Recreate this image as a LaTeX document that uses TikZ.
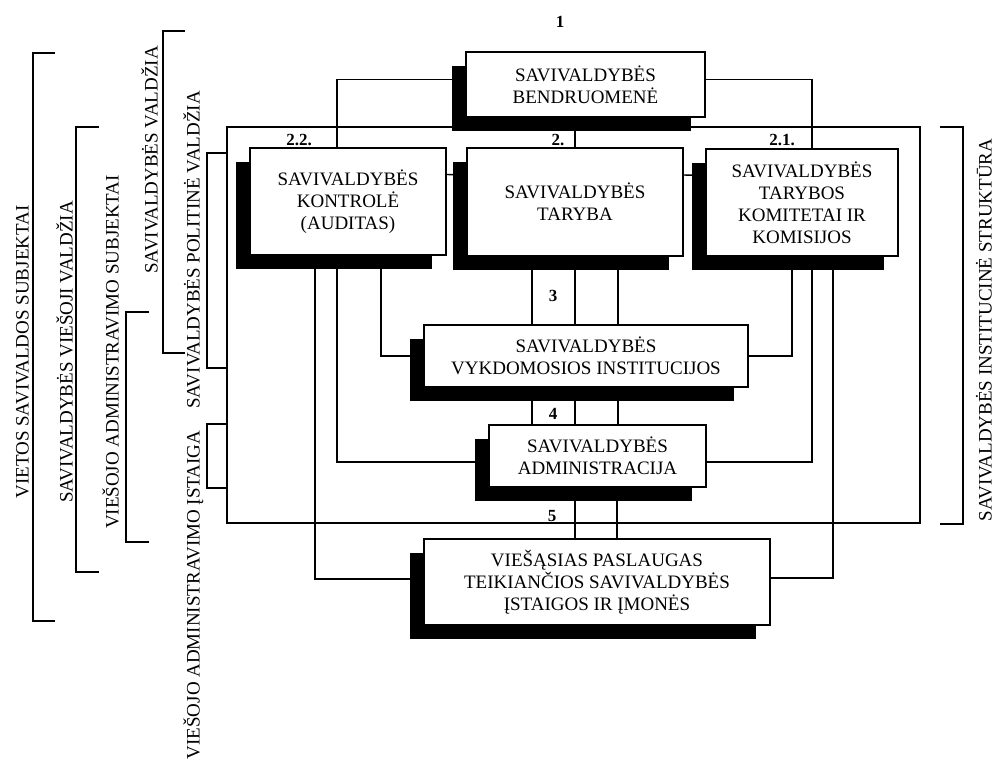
\documentclass[tikz,border=0pt]{standalone}
\usepackage{fontspec}
\setmainfont{Liberation Serif}
\usetikzlibrary{calc,shadows,backgrounds}
\begin{document}
\begin{tikzpicture}[x=1pt,y=-1pt,
  box/.style={draw, fill=white, line width=1.4pt, align=center, inner sep=0pt,
    font=\fontsize{19}{22}\selectfont,
    general shadow={fill=black, shadow xshift=-14pt, shadow yshift=-14pt}},
  conn/.style={line width=1.4pt},
  brack/.style={line width=1.8pt},
  num/.style={font=\fontsize{17}{19}\selectfont\bfseries, inner sep=0pt},
  vlab/.style={rotate=90, font=\fontsize{19}{22}\selectfont, inner sep=0pt,
    text height=13pt, text depth=0pt}]
\useasboundingbox (0,0) rectangle (997,766);

% outer frame
\node[draw, line width=1.4pt, minimum width=693pt, minimum height=396pt, inner sep=0pt] (frame) at (573.5,325) {};

% boxes
\node[box, minimum width=239pt, minimum height=65pt] (bend) at (585.5,84.5) {SAVIVALDYBĖS\\BENDRUOMENĖ};
\node[box, minimum width=196pt, minimum height=107pt] (kont) at (348,201.5) {SAVIVALDYBĖS\\KONTROLĖ\\(AUDITAS)};
\node[box, minimum width=216pt, minimum height=108pt] (tar) at (575,202) {SAVIVALDYBĖS\\TARYBA};
\node[box, minimum width=192pt, minimum height=107pt] (kom) at (802,202.5) {SAVIVALDYBĖS\\TARYBOS\\KOMITETAI IR\\KOMISIJOS};
\node[box, minimum width=324pt, minimum height=62pt] (vyk) at (586,356) {SAVIVALDYBĖS\\VYKDOMOSIOS INSTITUCIJOS};
\node[box, minimum width=217pt, minimum height=62pt] (adm) at (597.5,456) {SAVIVALDYBĖS\\ADMINISTRACIJA};
\node[box, minimum width=346pt, minimum height=86pt] (vie) at (597,582) {VIEŠĄSIAS PASLAUGAS\\TEIKIANČIOS SAVIVALDYBĖS\\ĮSTAIGOS IR ĮMONĖS};

% connectors
\begin{pgfonlayer}{background}
\draw[conn] ($(bend.west)+(0,-5)$) -| ($(kont.north)+(-11,0)$);
\draw[conn] ($(bend.east)+(0,-5)$) -| ($(kom.north)+(10,0)$);
\draw[conn] (tar.north) -- (tar.north |- bend.south);
\draw[conn] ($(kont.east)+(0,-27)$) -- ($(tar.west)+(0,-27)$);
\draw[conn] ($(tar.east)+(0,-27)$) -- ($(kom.west)+(0,-27)$);
\foreach \dx in {-43,0,43}{
  \draw[conn] ($(tar.south)+(\dx,0)$) -- ($(tar.south |- vyk.north)+(\dx,0)$);
  \draw[conn] ($(tar.south |- vyk.south)+(\dx,0)$) -- ($(tar.south |- adm.north)+(\dx,0)$);
}
\foreach \dx in {0,42}{
  \draw[conn] ($(tar.south |- adm.south)+(\dx,0)$) -- ($(tar.south |- vie.north)+(\dx,0)$);
}
\draw[conn] ($(kont.south)+(33,0)$) |- (vyk.west);
\draw[conn] ($(kont.south)+(-11,0)$) |- ($(adm.west)+(0,6)$);
\draw[conn] ($(kont.south)+(-33,0)$) |- ($(vie.west)+(0,-3)$);
\draw[conn] ($(kom.south)+(-10,0)$) |- (vyk.east);
\draw[conn] ($(kom.south)+(10,0)$) |- ($(adm.east)+(0,6)$);
\draw[conn] ($(kom.south)+(31,0)$) |- ($(vie.east)+(0,-4)$);
\end{pgfonlayer}

% number labels
\node[num] (n1) at (560,22) {1};
\node[num] (n22) at (299,140) {2.2.};
\node[num] (n2) at (558,140) {2.};
\node[num] (n21) at (782,140) {2.1.};
\node[num] (n3) at (553,296) {3};
\node[num] (n4) at (553,414) {4};
\node[num] (n5) at (552,516) {5};

% brackets
\draw[brack] (55,53) -- (33,53) -- (33,621) -- (55,621);
\draw[brack] (99,127) -- (76,127) -- (76,572) -- (99,572);
\draw[brack] (149,312) -- (126,312) -- (126,542) -- (149,542);
\draw[brack] (185,31) -- (163,31) -- (163,353) -- (185,353);
\draw[conn] (frame.west |- 0,153) -- (207,153) -- (207,368) -- (frame.west |- 0,368);
\draw[conn] (frame.west |- 0,424) -- (207,424) -- (207,488) -- (frame.west |- 0,488);
\draw[brack] (940,127) -- (963,127) -- (963,524) -- (940,524);

% rotated labels
\node[vlab] (l1) at (22,352) {VIETOS SAVIVALDOS SUBJEKTAI};
\node[vlab] (l2) at (66,352) {SAVIVALDYBĖS VIEŠOJI VALDŽIA};
\node[vlab] (l3) at (112,352) {VIEŠOJO ADMINISTRAVIMO SUBJEKTAI};
\node[vlab] (l4) at (151,160) {SAVIVALDYBĖS VALDŽIA};
\node[vlab] (l5) at (193,250) {SAVIVALDYBĖS POLITINĖ VALDŽIA};
\node[vlab] (l6) at (193,595) {VIEŠOJO ADMINISTRAVIMO ĮSTAIGA};
\node[vlab] (l7) at (985,330) {SAVIVALDYBĖS INSTITUCINĖ STRUKTŪRA};
\end{tikzpicture}
\end{document}
